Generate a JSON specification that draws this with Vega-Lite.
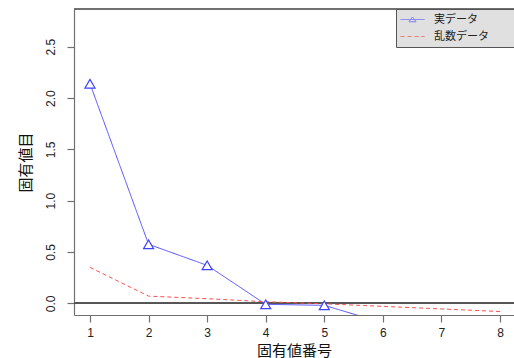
{
  "$schema": "https://vega.github.io/schema/vega-lite/v6.json",
  "width": 440,
  "height": 306,
  "autosize": {"type": "none"},
  "padding": {"left": 74, "top": 9, "right": 0, "bottom": 43},
  "background": "white",
  "config": {"view": {"stroke": null}, "font": "Liberation Sans"},
  "data": {"values": [
    {"n": 1, "series": "実データ", "value": 2.14},
    {"n": 2, "series": "実データ", "value": 0.575},
    {"n": 3, "series": "実データ", "value": 0.37},
    {"n": 4, "series": "実データ", "value": -0.01},
    {"n": 5, "series": "実データ", "value": -0.02},
    {"n": 6, "series": "実データ", "value": -0.19},
    {"n": 7, "series": "実データ", "value": -0.3},
    {"n": 8, "series": "実データ", "value": -0.42},
    {"n": 1, "series": "乱数データ", "value": 0.35},
    {"n": 2, "series": "乱数データ", "value": 0.07},
    {"n": 3, "series": "乱数データ", "value": 0.045},
    {"n": 4, "series": "乱数データ", "value": 0.015},
    {"n": 5, "series": "乱数データ", "value": -0.005},
    {"n": 6, "series": "乱数データ", "value": -0.03},
    {"n": 7, "series": "乱数データ", "value": -0.055},
    {"n": 8, "series": "乱数データ", "value": -0.08}
  ]},
  "encoding": {
    "x": {
      "field": "n", "type": "quantitative",
      "scale": {"domain": [0.727, 8.239], "nice": false, "zero": false},
      "axis": {
        "values": [1, 2, 3, 4, 5, 6, 7, 8], "format": "d", "grid": false,
        "domainColor": "#707070", "domainWidth": 1.2, "tickColor": "#707070", "tickSize": 7, "tickWidth": 1.2,
        "labelFont": "Liberation Sans", "labelFontSize": 12, "labelColor": "#222", "labelPadding": 5, "labelFlush": false,
        "title": "固有値番号", "titleFont": "Noto Sans CJK JP", "titleFontSize": 15, "titleFontWeight": "normal", "titleColor": "#111", "titlePadding": 5
      }
    },
    "y": {
      "field": "value", "type": "quantitative",
      "scale": {"domain": [-0.114, 2.868], "nice": false, "zero": false},
      "axis": {
        "values": [0, 0.5, 1, 1.5, 2, 2.5], "format": ".1f", "grid": false,
        "domainColor": "#707070", "domainWidth": 1.2, "tickColor": "#707070", "tickSize": 7, "tickWidth": 1.2,
        "labelFont": "Liberation Sans", "labelFontSize": 12, "labelColor": "#222", "labelAngle": 270, "labelAlign": "center", "labelBaseline": "bottom", "labelPadding": 10,
        "title": "固有値目", "titleFont": "Noto Sans CJK JP", "titleFontSize": 15, "titleFontWeight": "normal", "titleColor": "#111", "titlePadding": 11
      }
    }
  },
  "layer": [
    {
      "mark": {"type": "rule", "color": "#707070", "strokeWidth": 1.2},
      "encoding": {"y": {"datum": 2.868}, "x": null}
    },
    {
      "mark": {"type": "rule", "color": "#555", "strokeWidth": 1},
      "encoding": {"y": {"datum": 0}, "x": null}
    },
    {
      "mark": {"type": "line", "clip": true, "strokeWidth": 1},
      "encoding": {
        "color": {
          "field": "series", "type": "nominal",
          "scale": {"domain": ["実データ", "乱数データ"], "range": ["#4d4dff", "#ff4d4d"]},
          "legend": {
            "orient": "none", "legendX": 322, "legendY": 0, "title": null,
            "fillColor": "#e0e0e0", "strokeColor": "#555", "padding": 5,
            "symbolSize": 100, "symbolStrokeWidth": 1, "symbolFillColor": "transparent",
            "labelFont": "Noto Sans CJK JP", "labelFontSize": 11, "labelColor": "#222", "labelOffset": 22,
            "rowPadding": 5, "labelExpr": "datum.label + '\u2800\u2800\u2800\u2800\u2800\u2800'"
          }
        },
        "strokeDash": {
          "field": "series", "type": "nominal",
          "scale": {"domain": ["実データ", "乱数データ"], "range": [[1, 0], [4, 3]]}
        }
      }
    },
    {
      "transform": [{"filter": "datum.series === '実データ'"}],
      "mark": {"type": "point", "shape": "triangle-up", "size": 100, "filled": true, "fill": "white", "stroke": "#4040ff", "strokeWidth": 1.2, "opacity": 1, "clip": true},
      "encoding": {}
    },
    {
      "transform": [{"filter": "false"}],
      "mark": {"type": "point", "filled": false},
      "encoding": {
        "color": {"field": "series", "type": "nominal"},
        "strokeDash": {"field": "series", "type": "nominal"},
        "shape": {
          "field": "series", "type": "nominal",
          "scale": {"domain": ["実データ", "乱数データ"], "range": ["M-1.2,0H3.6M0.5,0.45L1.2,-0.5L1.9,0.45Z", "M-1.2,0H3.6"]}
        }
      }
    }
  ]
}
